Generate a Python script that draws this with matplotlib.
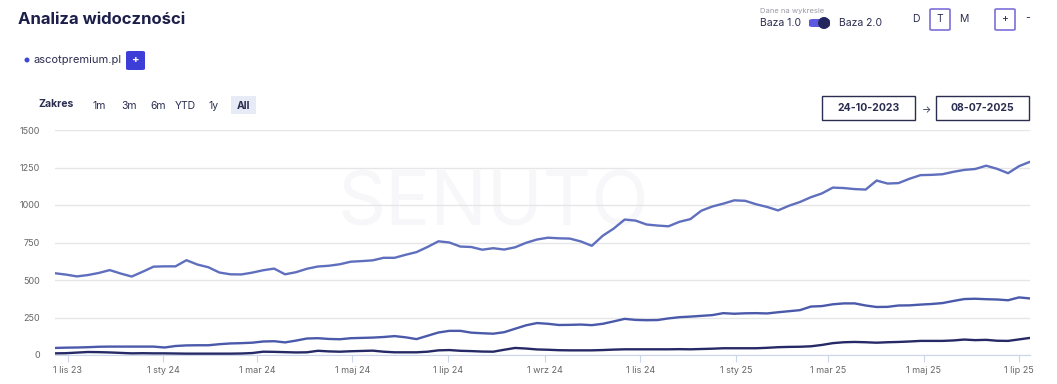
import matplotlib
matplotlib.use("Agg")
import matplotlib.pyplot as plt
import matplotlib.dates as mdates
import matplotlib.patches as mpatches
import pandas as pd

plt.rcParams["font.family"] = ["Inter", "DejaVu Sans"]

W, H = 1057, 384

# weekly data points, 24-10-2023 .. 08-07-2025
start_date = "2023-10-24"
n_weeks = 90

top_series = [
    545, 536, 524, 533, 547, 566, 543, 523, 555, 589,
    591, 591, 632, 603, 585, 550, 538, 537, 549, 565,
    576, 538, 552, 575, 590, 595, 605, 622, 626, 631,
    648, 648, 668, 686, 720, 758, 750, 723, 720, 702,
    712, 703, 718, 748, 770, 782, 778, 776, 757, 728,
    795, 843, 903, 896, 870, 863, 858, 888, 906, 962,
    990, 1009, 1031, 1028, 1005, 987, 964, 995, 1020, 1052,
    1077, 1116, 1113, 1106, 1103, 1163, 1143, 1146, 1175, 1199,
    1201, 1205, 1221, 1234, 1240, 1262, 1241, 1212, 1259, 1288,
]
mid_series = [
    47, 49, 50, 52, 55, 56, 56, 56, 56, 56,
    50, 60, 64, 65, 65, 72, 77, 79, 82, 90,
    92, 84, 96, 110, 112, 107, 105, 112, 114, 116,
    120, 126, 118, 106, 128, 150, 161, 161, 149, 145,
    142, 152, 175, 198, 213, 208, 200, 201, 203, 199,
    208, 224, 241, 234, 232, 233, 244, 252, 256, 261,
    266, 279, 275, 278, 279, 277, 285, 292, 299, 323,
    326, 338, 344, 344, 330, 320, 321, 330, 331, 336,
    340, 346, 360, 373, 375, 372, 370, 365, 384, 377,
]
low_series = [
    11, 12, 16, 20, 19, 17, 14, 11, 12, 11,
    11, 10, 9, 9, 9, 9, 9, 10, 13, 22,
    21, 19, 17, 18, 28, 24, 22, 25, 27, 29,
    22, 18, 18, 18, 22, 31, 33, 28, 26, 23,
    22, 35, 47, 43, 37, 35, 32, 31, 31, 31,
    33, 36, 38, 38, 38, 38, 38, 39, 38, 40,
    42, 45, 45, 45, 45, 48, 52, 54, 55, 58,
    67, 79, 85, 87, 85, 82, 85, 87, 90, 94,
    94, 94, 97, 103, 99, 101, 95, 94, 104, 114,
]

y_ticks = [0, 250, 500, 750, 1000, 1250, 1500]
pl_months = {1: "sty", 3: "mar", 5: "maj", 7: "lip", 9: "wrz", 11: "lis"}

dates = pd.date_range(start_date, periods=n_weeks, freq="7D")


def px(x, y):
    return x / W, 1 - y / H


fig = plt.figure(figsize=(W / 100, H / 100), dpi=100, facecolor="white")

# header
fig.text(*px(18, 19), "Analiza widoczności", fontsize=12, fontweight="bold",
         color="#1c1f4a", va="center", ha="left")
fig.text(*px(760, 11), "Dane na wykresie", fontsize=5.5, color="#9a9aa6",
         va="center", ha="left")
fig.text(*px(760, 23), "Baza 1.0", fontsize=7.5, color="#2b2d50", va="center")
fig.text(*px(839, 23), "Baza 2.0", fontsize=7.5, color="#2b2d50", va="center")
fig.patches.append(mpatches.FancyBboxPatch(
    px(809, 27), 21 / W, 8 / H, boxstyle="round,pad=0,rounding_size=0.004",
    transform=fig.transFigure, facecolor="#5b57e0", edgecolor="none"))
fig.patches.append(mpatches.Ellipse(
    px(824, 23), 12 / W, 12 / H, transform=fig.transFigure,
    facecolor="#23265c", edgecolor="none"))
fig.text(*px(916, 19), "D", fontsize=7.5, color="#2b2d50", ha="center", va="center")
fig.text(*px(940, 19), "T", fontsize=7.5, color="#2b2d50", ha="center", va="center")
fig.text(*px(964, 19), "M", fontsize=7.5, color="#2b2d50", ha="center", va="center")
fig.text(*px(1005, 19), "+", fontsize=7.5, color="#2b2d50", ha="center", va="center")
fig.text(*px(1028, 18), "-", fontsize=7.5, color="#2b2d50", ha="center", va="center")
for bx in (930, 995):
    fig.patches.append(mpatches.FancyBboxPatch(
        px(bx, 30), 20 / W, 21 / H, boxstyle="round,pad=0,rounding_size=0.002",
        transform=fig.transFigure, facecolor="none", edgecolor="#7d6fd8", lw=1.2))

# legend entry
fig.patches.append(mpatches.Ellipse(px(27, 60), 5 / W, 5 / H,
                                    transform=fig.transFigure,
                                    facecolor="#3b49d4", edgecolor="none"))
fig.text(*px(33, 60), "ascotpremium.pl", fontsize=8, color="#2b2d50", va="center")
fig.patches.append(mpatches.FancyBboxPatch(
    px(126, 70), 19 / W, 19 / H, boxstyle="round,pad=0,rounding_size=0.003",
    transform=fig.transFigure, facecolor="#3d3dd8", edgecolor="none"))
fig.text(*px(135.5, 60), "+", fontsize=8, color="white", fontweight="bold",
         ha="center", va="center")

# range selector
fig.text(*px(38, 104), "Zakres", fontsize=7.5, fontweight="bold", color="#2b2d50",
         va="center")
for lbl, cx in [("1m", 99), ("3m", 129), ("6m", 158), ("YTD", 185), ("1y", 214)]:
    fig.text(*px(cx, 106), lbl, fontsize=7.5, color="#2b2d50", ha="center", va="center")
fig.patches.append(mpatches.Rectangle(px(231, 114), 25 / W, 18 / H,
                                      transform=fig.transFigure,
                                      facecolor="#e6ebf5", edgecolor="none"))
fig.text(*px(243.5, 106), "All", fontsize=7.5, fontweight="bold", color="#2b2d50",
         ha="center", va="center")

# date inputs
for bx, lbl in [(822, "24-10-2023"), (936, "08-07-2025")]:
    fig.patches.append(mpatches.Rectangle(px(bx, 120), 93 / W, 24 / H,
                                          transform=fig.transFigure,
                                          facecolor="white", edgecolor="#2b2d50", lw=1))
    fig.text(*px(bx + 46.5, 108), lbl, fontsize=7.5, fontweight="bold",
             color="#2b2d50", ha="center", va="center")
fig.text(*px(926, 110), "→", fontsize=7, color="#2b2d50", ha="center", va="center")

# chart
ax = fig.add_axes([55 / W, 1 - 355 / H, 975 / W, 225 / H])
ax.text(0.45, 0.66, "SENUTO", transform=ax.transAxes, fontsize=54,
        color="#f7f7f9", ha="center", va="center", zorder=0)

ax.plot(dates, top_series, color="#5f6fbe", lw=1.7, zorder=3)
ax.plot(dates, mid_series, color="#4b59aa", lw=1.7, zorder=3)
ax.plot(dates, low_series, color="#252a66", lw=1.7, zorder=3)

ax.set_ylim(0, 1500)
ax.set_xlim(dates[0], dates[-1])
ax.set_yticks(y_ticks)
ax.yaxis.grid(True, color="#e6e6e6", lw=1)
ax.set_axisbelow(True)

ax.xaxis.set_major_locator(mdates.MonthLocator(bymonth=[1, 3, 5, 7, 9, 11]))
ax.xaxis.set_major_formatter(plt.FuncFormatter(
    lambda v, pos: "1 {} {}".format(pl_months[mdates.num2date(v).month],
                                     mdates.num2date(v).strftime("%y"))))

for side in ("top", "right", "left"):
    ax.spines[side].set_visible(False)
ax.spines["bottom"].set_color("#ccd6eb")
ax.tick_params(axis="y", length=0, pad=11, labelsize=6.5, labelcolor="#666666")
ax.tick_params(axis="x", length=5, color="#ccd6eb", pad=3, labelsize=6.5,
               labelcolor="#666666")

fig.savefig("out.png", dpi=100, facecolor="white")
